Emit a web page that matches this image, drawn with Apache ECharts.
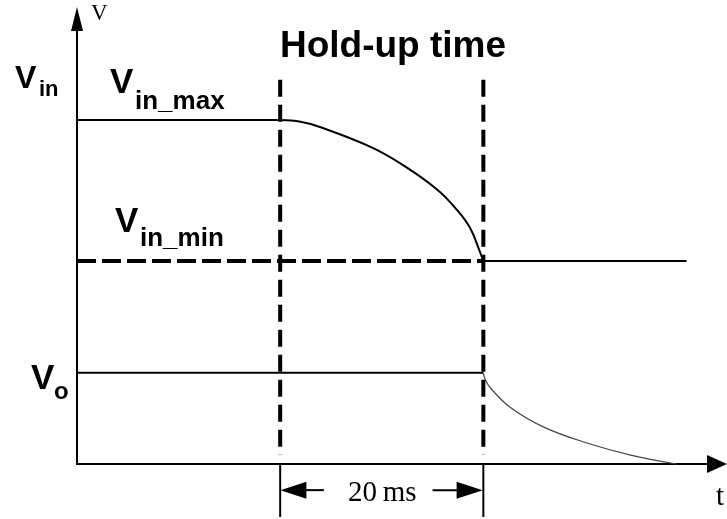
<!DOCTYPE html>
<html>
<head>
	<meta charset="utf-8">
	<title>Hold-up time</title>
	<script type="text/javascript" src="https://cdn.jsdelivr.net/npm/echarts/dist/echarts.min.js"></script>
<style type="text/css">
html, body
{
	margin: 0;
	padding: 0;
	background: #fff;
}
#main
{
	width: 727px;
	height: 519px;
}
</style>
</head>
<body>
<div id="main"></div>

<script type="text/javascript">
// time axis in ms, voltage axis in % of Vin_max
var T_MAX = 63;
var V_MAX = 129.4;

var VIN_MAX = 100;
var VIN_MIN = 59;
var VO = 26.5;

var T_START = 20;   // hold-up start
var T_END = 40;     // hold-up end (20 ms later)
var T_LINE_END = 60;

// input voltage sagging during hold-up
var sagPoints = [[20, 100], [22, 99.5], [23.9, 98], [28.9, 92.2], [32.1, 86.9], [35.5, 79.7], [37.4, 73.9], [38.7, 68.6], [39.7, 61.4], [40, 59]];
// output voltage decaying after hold-up
var decayPoints = [[40, 26.5], [40.2, 24.5], [40.7, 22.1], [42.6, 16.6], [45.9, 10.8], [50.2, 6.1], [54.5, 2.6], [59, 0]];

// dashed marker extents
var markTop = 111.7;
var markBottom = 2.6;
var tickBottom = -15.4;
var arrowLevel = -7.6;
var arrowInner = [24.3, 35];      // shaft inner ends
var arrowHeads = [21.3, 38.65];   // arrow head centres

var chart = echarts.init(document.getElementById('main'), null, {renderer: 'canvas'});

function seg(name, pts, width, type, color)
{
	return {
		name: name,
		type: 'line',
		data: pts,
		symbol: 'none',
		silent: true,
		clip: false,
		lineStyle: {color: color || '#000', width: width, type: type || 'solid', cap: 'butt'}
	};
}

function arrow(name, from, to, rot)
{
	return {
		name: name,
		type: 'line',
		silent: true,
		clip: false,
		showSymbol: true,
		showAllSymbol: true,
		symbolSize: [17, 26],
		itemStyle: {color: '#000'},
		lineStyle: {color: '#000', width: 2},
		data: [
			{value: [from, arrowLevel], symbol: 'none'},
			{value: [to, arrowLevel], symbol: 'triangle', symbolRotate: rot}
		]
	};
}

function txt(str, x, y, size, bold, serif)
{
	return {
		type: 'text',
		x: x,
		y: y,
		style: {
			text: str,
			fill: '#000',
			font: (bold ? 'bold ' : '') + size + 'px ' + (serif ? '"Liberation Serif", serif' : '"Liberation Sans", Arial, sans-serif'),
			textAlign: 'left',
			textVerticalAlign: 'middle'
		}
	};
}

var sag = seg('sag', sagPoints, 2);
sag.smooth = 0.4;
var decay = seg('decay', decayPoints, 1.2, 'solid', '#444');
decay.smooth = 0.4;

var series = [
	seg('vinmax', [[0, VIN_MAX], [T_START, VIN_MAX]], 2),
	sag,
	seg('vinmin-dash', [[0, VIN_MIN], [T_END, VIN_MIN]], 4, [19, 6]),
	seg('vinmin', [[T_END, VIN_MIN], [T_LINE_END, VIN_MIN]], 2),
	seg('vo', [[0, VO], [T_END, VO]], 2),
	decay,
	seg('mark1', [[T_START, markTop], [T_START, markBottom]], 4, [17, 8]),
	seg('mark2', [[T_END, markTop], [T_END, markBottom]], 4, [17, 8]),
	seg('tick1', [[T_START, 0], [T_START, tickBottom]], 2),
	seg('tick2', [[T_END, 0], [T_END, tickBottom]], 2),
	arrow('arrowL', arrowInner[0], arrowHeads[0], 90),
	arrow('arrowR', arrowInner[1], arrowHeads[1], -90)
];

var option = {
	animation: false,
	backgroundColor: '#fff',
	grid: {left: 77, top: 19, width: 640, height: 445},
	xAxis: {
		type: 'value',
		min: 0,
		max: T_MAX,
		axisLine: {show: true, symbol: ['none', 'triangle'], symbolSize: [18, 20], lineStyle: {color: '#000', width: 2}},
		axisTick: {show: false},
		axisLabel: {show: false},
		splitLine: {show: false}
	},
	yAxis: {
		type: 'value',
		min: 0,
		max: V_MAX,
		axisLine: {show: true, symbol: ['none', 'triangle'], symbolSize: [12, 24], lineStyle: {color: '#000', width: 2}},
		axisTick: {show: false},
		axisLabel: {show: false},
		splitLine: {show: false}
	},
	graphic: [
		txt('Hold-up time', 280, 47, 37, true),
		txt('V', 15, 79, 32, true),
		txt('in', 39, 90, 22, true),
		txt('V', 110, 83, 35, true),
		txt('in_max', 135, 102, 26, true),
		txt('V', 115, 222, 35, true),
		txt('in_min', 140, 239, 26, true),
		txt('V', 31, 379, 35, true),
		txt('o', 54, 392, 24, true),
		txt('V', 91, 14, 23, false, true),
		txt('20\u2009ms', 348, 493, 29, false, true),
		txt('t', 716, 497, 29, false, true)
	],
	series: series
};

chart.setOption(option);
</script>
</body>
</html>
